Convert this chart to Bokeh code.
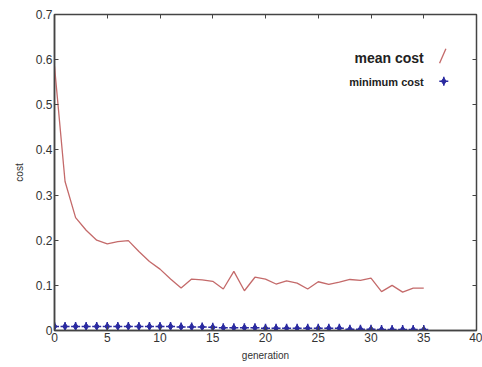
from bokeh.plotting import figure
from bokeh.models import Range1d, LinearAxis, Label, FixedTicker, CustomJSTickFormatter
from bokeh.embed import file_html
from bokeh.resources import INLINE

generation = list(range(36))
mean_cost = [0.585, 0.33, 0.25, 0.222, 0.2, 0.192, 0.197, 0.199, 0.175, 0.153,
             0.136, 0.114, 0.094, 0.114, 0.112, 0.109, 0.092, 0.131, 0.088, 0.118,
             0.114, 0.103, 0.110, 0.105, 0.092, 0.108, 0.102, 0.107, 0.113, 0.111,
             0.116, 0.086, 0.100, 0.085, 0.094, 0.094]
min_cost = [0.009, 0.009, 0.009, 0.009, 0.009, 0.009, 0.009, 0.009, 0.009, 0.009,
            0.009, 0.009, 0.008, 0.008, 0.008, 0.007, 0.006, 0.006, 0.006, 0.006,
            0.005, 0.005, 0.005, 0.005, 0.005, 0.005, 0.005, 0.005, 0.003, 0.003,
            0.003, 0.002, 0.002, 0.002, 0.002, 0.002]
x_ticks = [0, 5, 10, 15, 20, 25, 30, 35, 40]
y_ticks = [0, 0.1, 0.2, 0.3, 0.4, 0.5, 0.6, 0.7]

FONT = "Liberation Sans"
LINE_C = "#c46a6a"
MARK_C = "#2a2aa0"

p = figure(width=482, height=367, output_backend="svg", toolbar_location=None,
           x_range=Range1d(0, 40), y_range=Range1d(0, 0.7),
           min_border_left=54, min_border_right=6, min_border_top=14, min_border_bottom=37)
p.xgrid.visible = False
p.ygrid.visible = False
p.outline_line_color = "#444444"
p.outline_line_width = 1.5
p.background_fill_color = "white"
p.border_fill_color = "white"

for ax in (p.xaxis[0], p.yaxis[0]):
    ax.major_tick_in = 4
    ax.major_tick_out = 0
    ax.minor_tick_line_color = None
    ax.axis_line_color = "#444444"
    ax.axis_line_width = 1.5
    ax.major_tick_line_color = "#444444"
    ax.major_label_text_font = FONT
    ax.major_label_text_font_size = "12px"
    ax.major_label_text_color = "#333333"
    ax.axis_label_text_font = FONT
    ax.axis_label_text_font_size = "10px"
    ax.axis_label_text_font_style = "normal"
    ax.axis_label_text_color = "#333333"
    ax.major_label_standoff = 2

p.xaxis[0].ticker = FixedTicker(ticks=x_ticks)
p.yaxis[0].ticker = FixedTicker(ticks=y_ticks)
p.xaxis[0].axis_label = "generation"
p.yaxis[0].axis_label = "cost"
p.xaxis[0].axis_label_standoff = 5
p.yaxis[0].axis_label_standoff = 8

blank = CustomJSTickFormatter(code="return ''")
top = LinearAxis(ticker=FixedTicker(ticks=x_ticks), formatter=blank,
                 major_label_standoff=0,
                 major_tick_in=4, major_tick_out=0, minor_tick_line_color=None,
                 axis_line_color=None, major_tick_line_color="#444444")
right = LinearAxis(ticker=FixedTicker(ticks=y_ticks), formatter=blank,
                   major_label_standoff=0,
                   major_tick_in=4, major_tick_out=0, minor_tick_line_color=None,
                   axis_line_color=None, major_tick_line_color="#444444")
p.add_layout(top, "above")
p.add_layout(right, "right")

p.line(generation, mean_cost, line_color=LINE_C, line_width=1.3)
p.scatter(generation, min_cost, marker="diamond", size=7, fill_color=MARK_C,
          line_color=MARK_C)
p.scatter(generation, min_cost, marker="cross", size=9, line_color=MARK_C,
          line_width=1.5)

# legend
p.add_layout(Label(x=35.0, y=0.603, text="mean cost", text_align="right",
                   text_baseline="middle", text_font=FONT, text_font_size="14px",
                   text_font_style="bold", text_color="#222222"))
p.add_layout(Label(x=35.0, y=0.550, text="minimum cost", text_align="right",
                   text_baseline="middle", text_font=FONT, text_font_size="11px",
                   text_font_style="bold", text_color="#222222"))
p.segment(x0=[36.5], y0=[0.592], x1=[37.1], y1=[0.624], line_color=LINE_C, line_width=1.3)
p.scatter([36.9], [0.552], marker="diamond", size=7, fill_color=MARK_C, line_color=MARK_C)
p.scatter([36.9], [0.552], marker="cross", size=9, line_color=MARK_C, line_width=1.5)

open("out.html", "w").write(file_html(p, INLINE))
